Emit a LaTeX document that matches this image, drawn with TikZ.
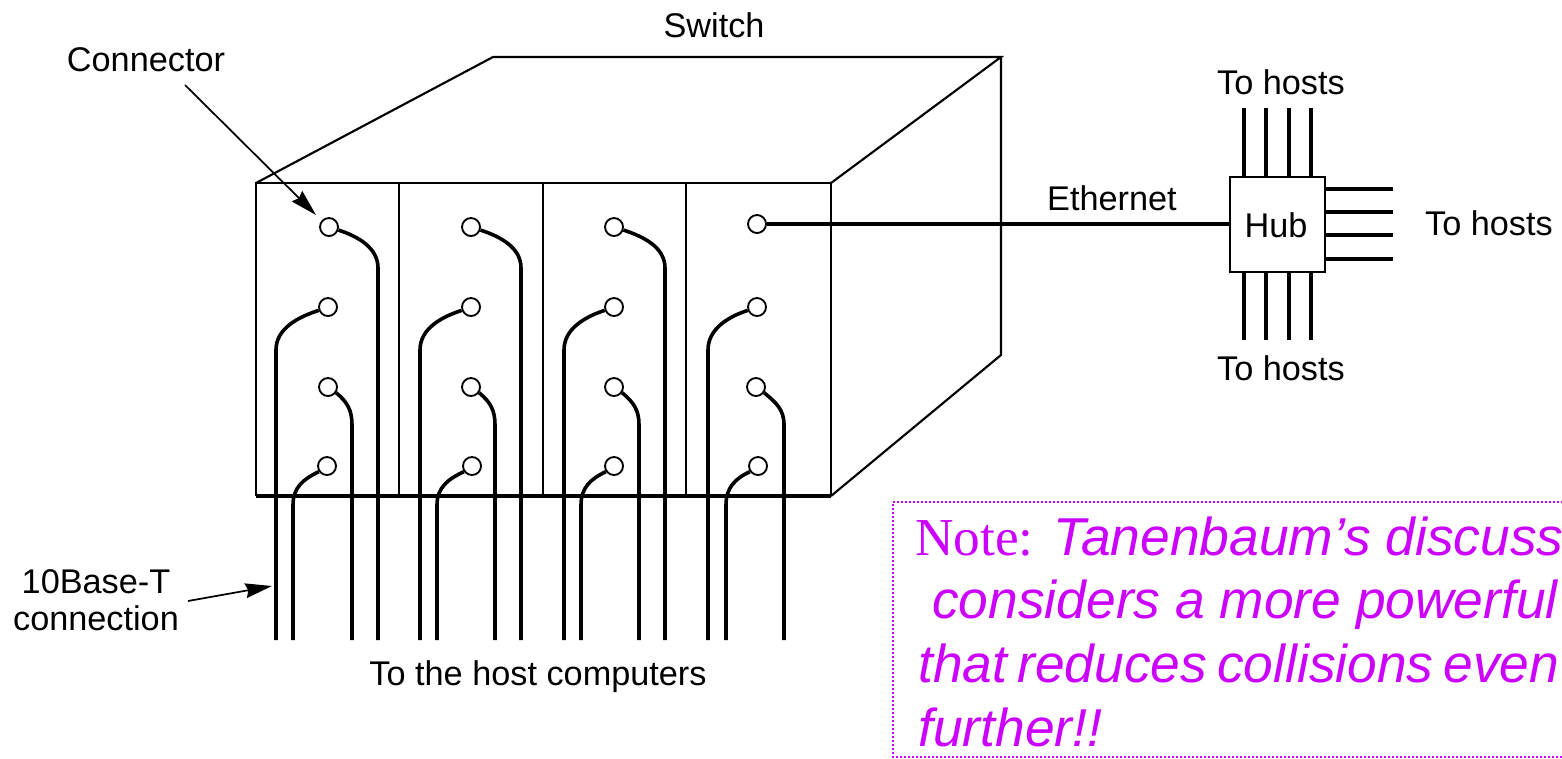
\documentclass[tikz,border=0pt]{standalone}
\usepackage{fontspec}
\setmainfont{Liberation Sans}
\newfontfamily\notefont{Liberation Serif}
\usetikzlibrary{arrows.meta}
\definecolor{notecol}{HTML}{CC00FF}
\tikzset{
  thinline/.style={line width=1.6pt,draw=black},
  wire/.style={line width=2.7pt,draw=black},
  port/.style={circle,draw=black,line width=1.4pt,fill=white,minimum size=13.5pt,inner sep=0pt},
  lbl/.style={font=\fontsize{25.7}{28}\selectfont,inner sep=0pt,text=black},
  pointer/.style={line width=1.3pt,-{Stealth[length=20pt,width=11pt,inset=2pt]}},
  hubbox/.style={draw=black,line width=1.6pt,fill=white,inner sep=0pt,minimum size=71pt},
}
\begin{document}
\begin{tikzpicture}[x=0.75pt,y=-0.75pt]
\useasboundingbox (0,0) rectangle (1562,758);
\fill[white] (0,0) rectangle (1562,758);
% switch box
\coordinate (fl) at (256,183); \coordinate (fr) at (831,183);
\coordinate (bl) at (256,496); \coordinate (br) at (831,496);
\coordinate (tl) at (493,57);  \coordinate (tr) at (1001,57);
\coordinate (dr) at (1001,355);
\draw[thinline,line join=miter] (bl) -- (fl) -- (fr) -- (br);
\draw[thinline] (fl) -- (tl) -- (tr) -- (fr);
\draw[thinline] (tr) -- (dr) -- (br);
\draw[wire,line width=2.4pt] (bl) -- (br);
\foreach \x/\n in {399/1,543/2,686/3}{
  \coordinate (dt\n) at (\x,183); \coordinate (db\n) at (\x,496);
  \draw[thinline] (dt\n) -- (db\n);
}
% ports
\foreach \n/\x/\y in {a1/329/227,a2/328/307,a3/328/387,a4/327/466,
  b1/471/227,b2/471/307,b3/471/387,b4/472/466,
  c1/614/227,c2/614/307,c3/614/387,c4/614/466,
  d1/757/224,d2/757/307,d3/756/387,d4/758/466}{
  \node[port] (\n) at (\x,\y) {};
}
% wires
\foreach \p/\X/\Y/\Z in {a/276/293/352,b/420/437/495,c/564/581/639,d/708/726/784}{
  \coordinate (\p e2) at (\X,640);
  \coordinate (\p t2) at (\X,350);
  \coordinate (\p e4) at (\Y,640);
  \coordinate (\p t4) at (\Y,505);
  \coordinate (\p e3) at (\Z,640);
  \coordinate (\p t3) at (\Z,425);
  \draw[wire] (\p2.200) to[out=198,in=90,looseness=0.95] (\p t2) -- (\p e2);
  \draw[wire] (\p4.215) to[out=205,in=90,looseness=1.05] (\p t4) -- (\p e4);
  \draw[wire] (\p3.-35) to[out=-40,in=90,looseness=1.05] (\p t3) -- (\p e3);
}
\foreach \p/\W in {a/378,b/521,c/665}{
  \coordinate (\p e1) at (\W,640);
  \coordinate (\p t1) at (\W,268);
  \draw[wire] (\p1.-18) to[out=-18,in=90,looseness=0.95] (\p t1) -- (\p e1);
}
% hub
\node[hubbox] (hub) at (1277.5,224.5) {};
\node[lbl] (hublbl) at (1276,225) {Hub};
\draw[wire] (d1) -- (hub.west |- d1);
\foreach \x/\n in {1244/1,1266/2,1289/3,1311/4}{
  \coordinate (ht\n) at (\x,108);
  \coordinate (hb\n) at (\x,340);
  \draw[wire] (ht\n) -- (ht\n |- hub.north);
  \draw[wire] (hb\n) -- (hb\n |- hub.south);
}
\foreach \y/\n in {189/1,212/2,235/3,259/4}{
  \coordinate (hr\n) at (1393,\y);
  \draw[wire] (hr\n) -- (hr\n -| hub.east);
}
% labels
\node[lbl] (switchlbl) at (714,25) {Switch};
\node[lbl] (connlbl) at (146,60) {Connector};
\node[lbl] (ethlbl) at (1112,198) {Ethernet};
\node[lbl] (hosts1) at (1281,82) {To hosts};
\node[lbl] (hosts2) at (1281,368) {To hosts};
\node[lbl] (hosts3) at (1489,223) {To hosts};
\node[lbl] (hostcomp) at (538,677) {To the host computers};
\node[lbl,align=center] (tenbase) at (96,600) {10Base-T\\connection};
% pointers
\coordinate (connfrom) at (185,85);
\coordinate (connto) at (316,215);
\draw[pointer] (connfrom) -- (connto);
\coordinate (basefrom) at (188,601);
\coordinate (baseto) at (272,586);
\draw[pointer] (basefrom) -- (baseto);
% note
\coordinate (nbl) at (1562,757); \coordinate (nb) at (893,757);
\coordinate (nt) at (893,502); \coordinate (ntr) at (1562,502);
\draw[notecol,line width=1.8pt,dash pattern=on 1.5pt off 1.5pt] (nbl) -- (nb) -- (nt) -- (ntr);
\begin{scope}[every node/.style={anchor=base west,inner sep=0pt,text=notecol,font=\fontsize{40}{48}\selectfont\itshape}]
\node (n1) at (915,555) {{\notefont\upshape Note:} Tanenbaum’s discuss};
\node (n2) at (932,618) {considers a more powerful};
\node (n3) at (918,682) {\spaceskip=0.19em that reduces collisions even};
\node (n4) at (918,746) {further!!};
\end{scope}
\end{tikzpicture}
\end{document}
